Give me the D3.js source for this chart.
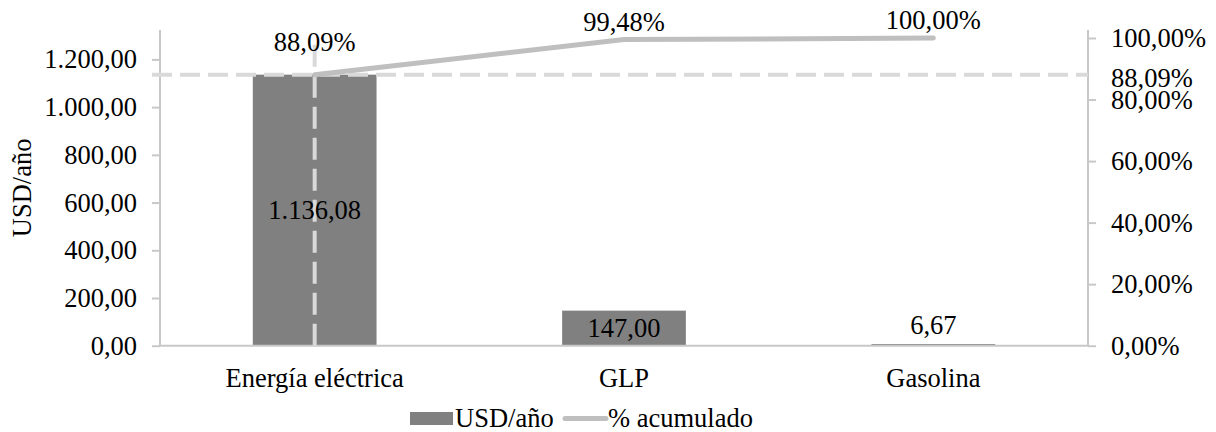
<!DOCTYPE html>
<html><head><meta charset="utf-8">
<script src="https://cdn.jsdelivr.net/npm/d3@7"></script>
<style>
html,body{margin:0;padding:0;background:#fff;}
svg, svg text{font-family:'Liberation Serif','Times New Roman',Times,serif !important;}
text{fill:#000;}
</style></head>
<body><svg id="c" width="1216" height="432"></svg>
<script>
const categories = ["Energía eléctrica", "GLP", "Gasolina"];
const values = [1136.08, 147.00, 6.67];
const cumulative = [0.8809, 0.9948, 1.0000];
const leftTicks = [0, 200, 400, 600, 800, 1000, 1200];
const rightTicks = [0, 0.2, 0.4, 0.6, 0.8, 1.0];
const threshold = 0.8809;
const seriesNames = ["USD/año", "% acumulado"];
const yTitle = "USD/año";

const FONT = "'Liberation Serif','Times New Roman',Times,serif";
const loc = d3.formatLocale({decimal: ",", thousands: ".", grouping: [3], currency: ["", ""]});
const fNum = loc.format(",.2f");
const fPct = loc.format(".2%");

const svg = d3.select("#c").style("font-family", FONT);
const FS = 26.5;
const L = 160, R = 1088, Y0 = 345.7, YTOP = 38, AXTOP = 30;
const total = d3.sum(values);

const x = d3.scaleBand().domain(categories).range([L, R]).paddingInner(0.6).paddingOuter(0.3);
const yL = d3.scaleLinear().domain([0, total]).range([Y0, YTOP]);
const yR = d3.scaleLinear().domain([0, 1]).range([Y0, YTOP]);
const cx = c => x(c) + x.bandwidth() / 2;

const axisColor = "#c8c8c8";

// bars
svg.append("g").selectAll("rect").data(values).join("rect")
  .attr("x", (d, i) => x(categories[i]))
  .attr("width", x.bandwidth())
  .attr("y", d => yL(d))
  .attr("height", d => Y0 - yL(d))
  .attr("fill", "#808080");

function styleAxis(g) {
  g.attr("font-family", FONT).attr("font-size", FS);
  g.selectAll(".tick line").attr("stroke", axisColor).attr("stroke-width", 2);
  g.selectAll(".tick text").attr("font-size", FS).style("font-family", FONT).attr("fill", "#000");
}

// left axis
const gl = svg.append("g").attr("transform", `translate(${L},0)`)
  .call(d3.axisLeft(yL).tickValues(leftTicks).tickFormat(fNum).tickSize(8).tickPadding(15));
gl.select(".domain").attr("d", `M0,${AXTOP}V${Y0}`).attr("stroke", axisColor).attr("stroke-width", 2);
styleAxis(gl);

// right axis
const gr = svg.append("g").attr("transform", `translate(${R},0)`)
  .call(d3.axisRight(yR).tickValues(rightTicks).tickFormat(fPct).tickSize(8).tickPadding(15));
gr.select(".domain").attr("d", `M0,${AXTOP}V${Y0}`).attr("stroke", axisColor).attr("stroke-width", 2);
styleAxis(gr);

// bottom axis
const gb = svg.append("g").attr("transform", `translate(0,${Y0})`)
  .call(d3.axisBottom(x).tickSize(0).tickPadding(22));
gb.select(".domain").attr("d", `M${L},0H${R}`).attr("stroke", axisColor).attr("stroke-width", 2);
styleAxis(gb);
gb.selectAll(".tick text").attr("dy", "0.71em");

// threshold dashed lines
svg.append("line")
  .attr("x1", L - 8).attr("x2", R)
  .attr("y1", yR(threshold)).attr("y2", yR(threshold))
  .attr("stroke", "#d9d9d9").attr("stroke-width", 4).attr("stroke-dasharray", "20,8");
svg.append("line")
  .attr("x1", cx(categories[0])).attr("x2", cx(categories[0]))
  .attr("y1", Y0).attr("y2", 43)
  .attr("stroke", "#d9d9d9").attr("stroke-width", 4).attr("stroke-dasharray", "22,9");

// cumulative line
const line = d3.line().x((d, i) => cx(categories[i])).y(d => yR(d));
svg.append("path").datum(cumulative)
  .attr("d", line).attr("fill", "none")
  .attr("stroke", "#bfbfbf").attr("stroke-width", 5)
  .attr("stroke-linecap", "round").attr("stroke-linejoin", "round");

// cumulative labels
svg.append("g").selectAll("text").data(cumulative).join("text")
  .attr("x", (d, i) => cx(categories[i]))
  .attr("y", (d, i) => i === 0 ? yR(d) - 24 : yR(d) - 9)
  .attr("text-anchor", "middle").attr("font-size", FS)
  .text(d => fPct(d));

// bar value labels
svg.append("g").selectAll("text").data(values).join("text")
  .attr("x", (d, i) => cx(categories[i]))
  .attr("y", d => {
    const h = Y0 - yL(d);
    const c = h < 30 ? Y0 - 20 : (yL(d) + Y0) / 2;
    return c + 8.5;
  })
  .attr("text-anchor", "middle").attr("font-size", FS)
  .text(d => fNum(d));

// right threshold label
svg.append("text")
  .attr("x", R + 23).attr("y", yR(threshold) + 12)
  .attr("font-size", FS).text(fPct(threshold));

// y title
svg.append("text")
  .attr("transform", `translate(31,${(AXTOP + Y0) / 2}) rotate(-90)`)
  .attr("text-anchor", "middle").attr("font-size", FS).text(yTitle);

// legend
const lg = svg.append("g");
lg.append("rect").attr("x", 410).attr("y", 412).attr("width", 43).attr("height", 13).attr("fill", "#808080");
lg.append("text").attr("x", 455).attr("y", 427).attr("font-size", FS).text(seriesNames[0]);
lg.append("line").attr("x1", 565).attr("x2", 606).attr("y1", 418.5).attr("y2", 418.5)
  .attr("stroke", "#bfbfbf").attr("stroke-width", 5).attr("stroke-linecap", "round");
lg.append("text").attr("x", 608).attr("y", 427).attr("font-size", FS).text(seriesNames[1]);
</script></body></html>
